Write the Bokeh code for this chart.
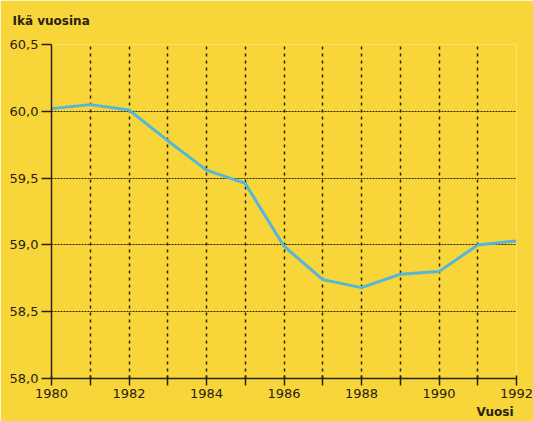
from bokeh.plotting import figure
from bokeh.models import FixedTicker, Title
from bokeh.embed import file_html
from bokeh.resources import INLINE

years = list(range(1980, 1993))
age = [60.02, 60.05, 60.01, 59.78, 59.56, 59.46, 58.99, 58.74, 58.68, 58.78, 58.80, 59.00, 59.03]
y_ticks = [58.0, 58.5, 59.0, 59.5, 60.0, 60.5]
y_tick_labels = ["58,0", "58,5", "59,0", "59,5", "60,0", "60,5"]
x_tick_labels = [str(y) if y % 2 == 0 else "" for y in years]
y_title = "Ikä vuosina"
x_title = "Vuosi"

BG = "#f8d63a"
INK = "#2a2110"
FONT = "DejaVu Sans"

p = figure(width=533, height=421, output_backend="svg", toolbar_location=None,
           x_range=(1980, 1992), y_range=(58.0, 60.5),
           min_border_left=51, min_border_right=17, min_border_top=44, min_border_bottom=43)
p.background_fill_color = BG
p.border_fill_color = BG
p.outline_line_color = None

p.line(years, age, line_color="#55b6d8", line_width=3)

p.xaxis.ticker = FixedTicker(ticks=years)
p.xaxis.major_label_overrides = {y: l for y, l in zip(years, x_tick_labels)}
p.yaxis.ticker = FixedTicker(ticks=y_ticks)
p.yaxis.major_label_overrides = {t: l for t, l in zip(y_ticks, y_tick_labels)}

for ax in (p.xaxis, p.yaxis):
    ax.axis_line_color = INK
    ax.axis_line_width = 1.5
    ax.major_tick_line_color = INK
    ax.major_tick_line_width = 1.5
    ax.minor_tick_line_color = None
    ax.major_label_text_font = FONT
    ax.major_label_text_font_size = "13px"
    ax.major_label_text_color = INK

p.xaxis.major_tick_in = 3
p.xaxis.major_tick_out = 7
p.xaxis.major_label_standoff = 3
p.yaxis.major_tick_in = 0
p.yaxis.major_tick_out = 10
p.yaxis.major_label_standoff = 3

p.xgrid.grid_line_color = INK
p.xgrid.grid_line_dash = "3 4"
p.xgrid.grid_line_width = 1.5
p.ygrid.grid_line_color = INK
p.ygrid.grid_line_dash = "2 1"
p.ygrid.grid_line_width = 1.1

# spacer between frame and the axis title (closest to the frame)
p.add_layout(Title(text=" ", standoff=0, text_font=FONT, text_font_size="10px"), "above")
p.add_layout(Title(text=y_title, align="left", offset=-39, standoff=8,
                   text_font=FONT, text_font_size="12px", text_font_style="bold",
                   text_color=INK), "above")
p.add_layout(Title(text=x_title, align="right", offset=3, standoff=5,
                   text_font=FONT, text_font_size="12px", text_font_style="bold",
                   text_color=INK), "below")

open("out.html", "w").write(file_html(p, INLINE))
